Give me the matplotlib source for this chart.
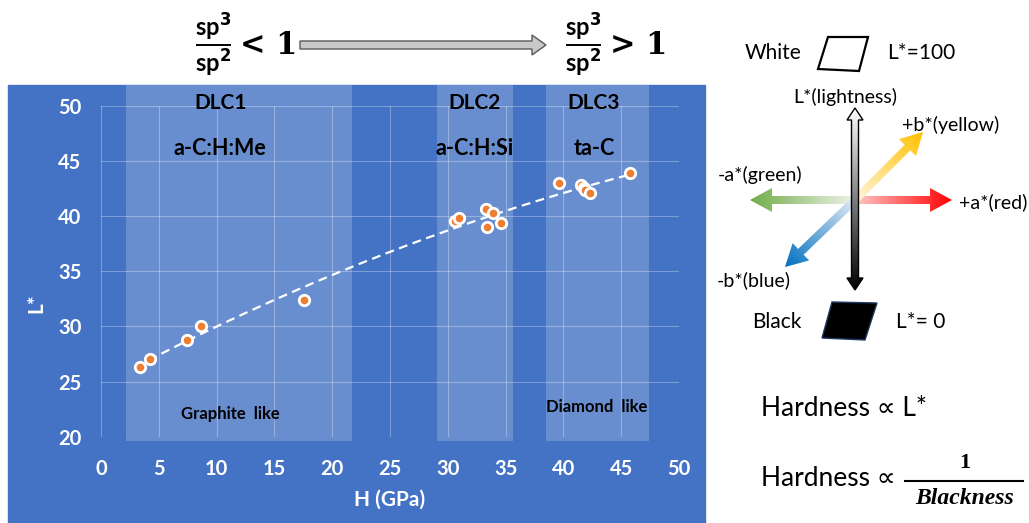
import numpy as np
import matplotlib
matplotlib.use("Agg")
import matplotlib.pyplot as plt
from matplotlib.patches import Rectangle, Polygon, FancyArrow
from matplotlib.colors import to_rgb

plt.rcParams['font.family'] = ['Lato', 'DejaVu Sans']

# nano-hardness (GPa) and CIE lightness L* of the coatings
hardness = np.array([3.4, 4.2, 7.4, 8.65, 17.6,
                     30.6, 31.0, 33.3, 33.9, 33.4, 34.6,
                     39.65, 41.55, 41.8, 41.9, 42.3, 45.76])
lightness = np.array([26.3, 27.0, 28.8, 30.0, 32.4,
                      39.55, 39.8, 40.6, 40.25, 39.0, 39.4,
                      42.96, 42.78, 42.5, 42.35, 42.1, 43.87])

groups = ["DLC1", "DLC2", "DLC3"]
group_types = ["a-C:H:Me", "a-C:H:Si", "ta-C"]
group_ranges = [(2.2, 21.7), (29.1, 35.6), (38.5, 47.4)]
group_label_x = [10.3, 32.35, 42.65]

x_ticks = np.arange(0, 51, 5)
y_ticks = np.arange(20, 51, 5)

BLUE = '#4472C4'
ORANGE = '#ED7D31'

fig = plt.figure(figsize=(10.29, 5.23), dpi=100)

# background layer in pixel units (blue panel + side sketches)
bg = fig.add_axes([0, 0, 1, 1])
bg.set_xlim(0, 1029)
bg.set_ylim(523, 0)
bg.axis('off')
bg.set_zorder(0)
bg.add_patch(Rectangle((8, 85), 697, 440, color=BLUE, zorder=0))

# main chart
W, H = 1029, 523
ax = fig.add_axes([101 / W, (H - 436.7) / H, 578 / W, 331 / H])
ax.set_zorder(1)
ax.set_facecolor('none')
ax.set_xlim(0, 50)
ax.set_ylim(20, 50)
ax.set_xticks(x_ticks)
ax.set_yticks(y_ticks)
for s in ax.spines.values():
    s.set_visible(False)
ax.grid(color='white', alpha=0.3, lw=0.8)
ax.set_axisbelow(True)
ax.tick_params(colors='white', length=0, labelsize=14.5)
ax.tick_params(axis='y', pad=14)
ax.tick_params(axis='x', pad=16)
for lab in ax.get_xticklabels() + ax.get_yticklabels():
    lab.set_fontweight('bold')

for (x0, x1), name, kind, lx in zip(group_ranges, groups, group_types, group_label_x):
    ax.add_patch(Rectangle((x0, 19.6), x1 - x0, 51.9 - 19.6, facecolor='white',
                           alpha=0.2, lw=0, clip_on=False, zorder=0))
    ax.text(lx, 50.2, name, ha='center', va='center', fontsize=15, fontweight='bold')
    ax.text(lx, 46.1, kind, ha='center', va='center', fontsize=15.5, fontweight='bold')

ax.text(11.2, 22.05, 'Graphite  like', ha='center', va='center', fontsize=12, fontweight='bold')
ax.text(42.9, 22.66, 'Diamond  like', ha='center', va='center', fontsize=12, fontweight='bold')

# quadratic trend
coef = np.polyfit(hardness, lightness, 2)
xs = np.linspace(hardness.min() - 0.4, hardness.max(), 200)
ax.plot(xs, np.polyval(coef, xs), color='white', lw=1.6, ls='--', dashes=(4, 2.5), zorder=2)
ax.plot(hardness, lightness, 'o', ms=7.5, mfc=ORANGE, mec='white', mew=2, zorder=3)

ax.set_ylabel('L*', color='white', fontsize=15, fontweight='bold')
ax.yaxis.set_label_coords(-0.095, 0.404)
ax.set_xlabel('H (GPa)', color='white', fontsize=15, fontweight='bold')
ax.xaxis.set_label_coords(0.5, -0.16)


# sp3/sp2 ratio header
def ratio(xc, sign):
    bg.text(xc, 27, r'sp$^{\mathbf{3}}$', ha='center', va='center', fontsize=17, fontweight='bold')
    bg.plot([xc - 16, xc + 17], [45, 45], color='black', lw=1.4)
    bg.text(xc, 63, r'sp$^{\mathbf{2}}$', ha='center', va='center', fontsize=17, fontweight='bold')
    bg.text(xc + 27, 46, sign + ' 1', ha='left', va='center', fontsize=22,
            fontweight='bold', family='DejaVu Serif')


ratio(213, '<')
ratio(583, '>')
bg.add_patch(FancyArrow(300, 45, 246, 0, width=8, head_width=20, head_length=14,
                        length_includes_head=True, fc='#C8C8C8', ec='#595959', lw=1))


# CIELAB axes sketch
def arrow_points(x0, y0, x1, y1, width, head_width, head_length, double=False):
    d = np.array([x1 - x0, y1 - y0], float)
    u = d / np.hypot(*d)
    n = np.array([-u[1], u[0]])
    p0, p1 = np.array([x0, y0]), np.array([x1, y1])
    tail = p0 + u * head_length if double else p0
    hb = p1 - u * head_length
    pts = [p1, hb + n * head_width / 2, hb + n * width / 2, tail + n * width / 2]
    if double:
        pts += [tail + n * head_width / 2, p0, tail - n * head_width / 2]
    pts += [tail - n * width / 2, hb - n * width / 2, hb - n * head_width / 2]
    return np.array(pts)


def gradient_arrow(x0, y0, x1, y1, c0, c1, width=8, head_width=24, head_length=22,
                   double=False, edge='none', z=2):
    poly = Polygon(arrow_points(x0, y0, x1, y1, width, head_width, head_length, double),
                   closed=True, fc='none', ec=edge, lw=1, zorder=z + 0.5)
    bg.add_patch(poly)
    pad = head_width
    gx = np.linspace(min(x0, x1) - pad, max(x0, x1) + pad, 200)
    gy = np.linspace(min(y0, y1) - pad, max(y0, y1) + pad, 200)
    X, Y = np.meshgrid(gx, gy)
    dx, dy = x1 - x0, y1 - y0
    t = np.clip(((X - x0) * dx + (Y - y0) * dy) / (dx * dx + dy * dy), 0, 1)[..., None]
    img = (1 - t) * np.array(to_rgb(c0)) + t * np.array(to_rgb(c1))
    im = bg.imshow(img, extent=(gx[0], gx[-1], gy[0], gy[-1]), origin='lower',
                   aspect='auto', zorder=z, interpolation='bilinear')
    im.set_clip_path(poly)


cx, cy = 855, 200
gradient_arrow(cx, cy, 750, cy, '#EEF3EA', '#70AD47')
gradient_arrow(cx, cy, 952, cy, '#FFC8C8', '#FF0000')
gradient_arrow(cx, cy, 923, 132, '#FFF6DD', '#FFC000')
gradient_arrow(cx, cy, 785, 267, '#E3EAF6', '#0070C0')
gradient_arrow(cx, 108, cx, 290, '#FFFFFF', '#000000', width=7, head_width=16,
               head_length=12, double=True, edge='black', z=4)
bg.set_xlim(0, 1029)
bg.set_ylim(523, 0)

bg.add_patch(Polygon([(818, 69), (828, 37), (868, 37), (859, 71)], closed=True,
                     fc='white', ec='black', lw=1.6))
bg.add_patch(Polygon([(822, 338), (832, 302), (877, 303), (865, 340)], closed=True,
                     fc='black', ec='#1F3864', lw=1))

lab = dict(ha='center', va='center', fontsize=15)
bg.text(773, 53, 'White', **lab)
bg.text(921, 53, 'L*=100', **lab)
bg.text(777, 322, 'Black', **lab)
bg.text(921, 322, 'L*= 0', **lab)
small = dict(ha='center', va='center', fontsize=14)
bg.text(845, 97, 'L*(lightness)', **small)
bg.text(951, 125, '+b*(yellow)', **small)
bg.text(760, 175, '-a*(green)', **small)
bg.text(993, 202, '+a*(red)', **small)
bg.text(754, 280, '-b*(blue)', **small)

bg.text(761, 409, 'Hardness \u221d L*', ha='left', va='center', fontsize=19)
bg.text(761, 479, 'Hardness \u221d', ha='left', va='center', fontsize=19)
bg.text(965, 463, '1', ha='center', va='center', fontsize=16, fontweight='bold',
        family='Liberation Serif')
bg.plot([905, 1023], [481, 481], color='black', lw=1.5)
bg.text(965, 498, 'Blackness', ha='center', va='center', fontsize=17, fontweight='bold',
        style='italic', family='Liberation Serif')

fig.savefig('out.png', dpi=100)
